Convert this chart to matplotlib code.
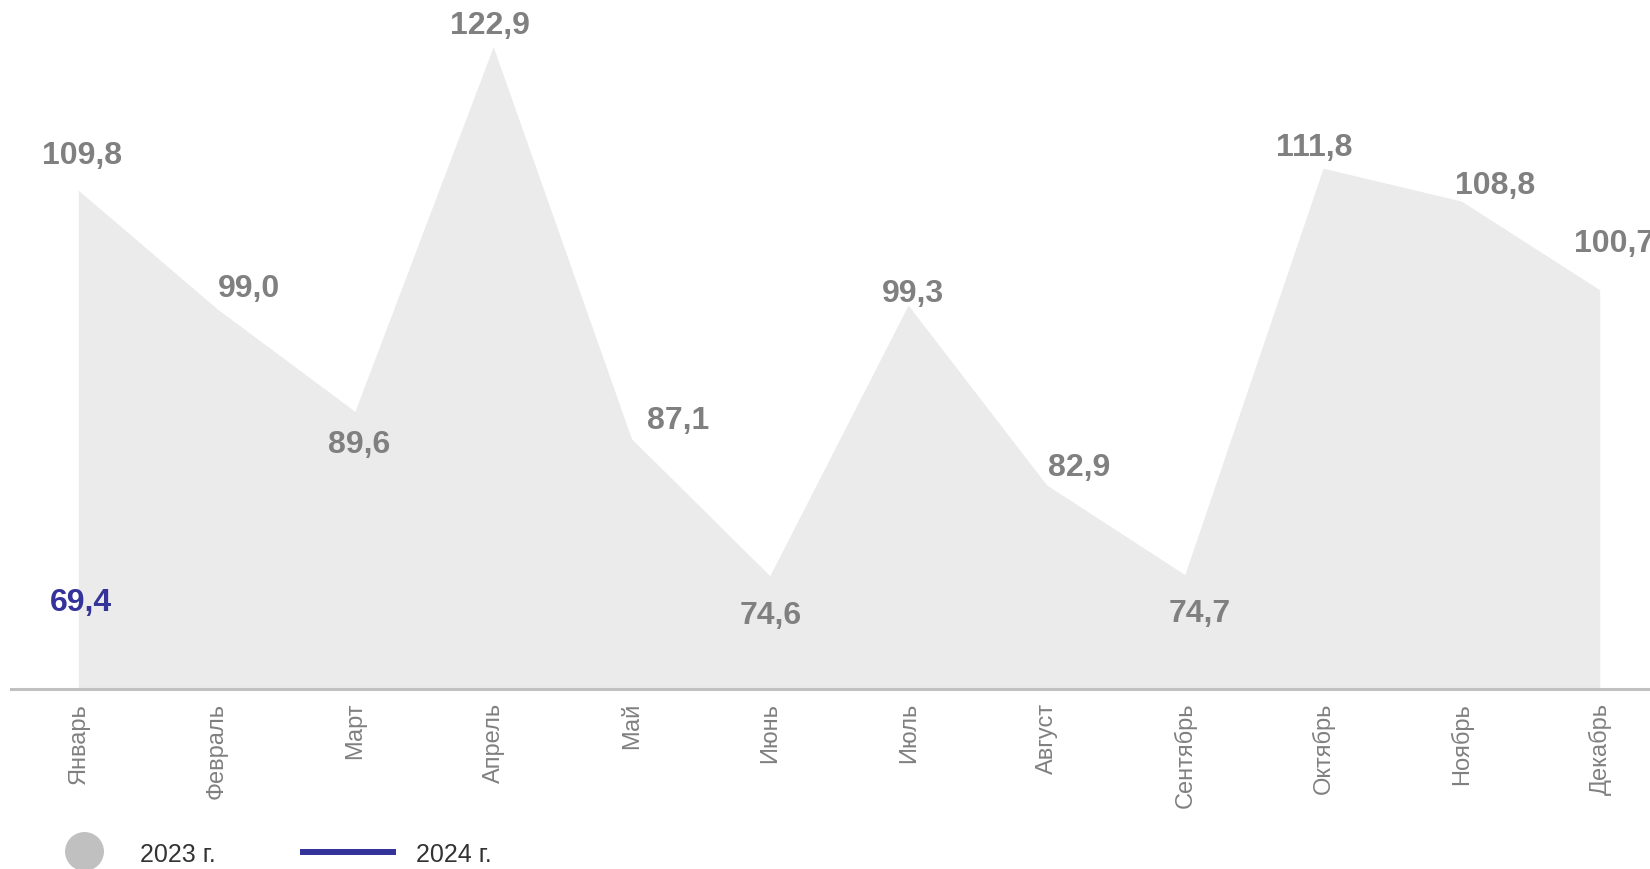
import matplotlib
matplotlib.use("Agg")
from matplotlib import pyplot as plt
from matplotlib.lines import Line2D
import numpy as np

months = ["Январь", "Февраль", "Март", "Апрель", "Май", "Июнь",
          "Июль", "Август", "Сентябрь", "Октябрь", "Ноябрь", "Декабрь"]
values_2023 = [109.8, 99.0, 89.6, 122.9, 87.1, 74.6,
               99.3, 82.9, 74.7, 111.8, 108.8, 100.7]
values_2024 = [69.4]

# label placement (pixels) to mimic the original layout
label_dx = [3, 32, 4, -4, 46, 0, 4, 32, 14, -9, 33, 14]
label_dy = [35, 20, -33, 21, 18, -40, 12, 17, -39, 21, 16, 46]

GREY_FILL = "#ebebeb"
GREY_TEXT = "#808080"
BLUE = "#333399"

plt.rcParams["font.family"] = ["Liberation Sans", "DejaVu Sans"]

W, H = 1650, 869
fig = plt.figure(figsize=(W / 100, H / 100), dpi=100)
ax = fig.add_axes([11 / W, (H - 689) / H, (W - 11) / W, 689 / H])

x = np.arange(len(months))
ax.fill_between(x, values_2023, 0, color=GREY_FILL, lw=0)
ax.plot(np.arange(len(values_2024)), values_2024, color=BLUE, lw=4)

for i, v in enumerate(values_2023):
    ax.annotate(f"{v:.1f}".replace(".", ","), (x[i], v),
                xytext=(label_dx[i], label_dy[i]), textcoords="offset pixels",
                ha="center", va="center", fontsize=23, fontweight="bold",
                color=GREY_TEXT, annotation_clip=False)
for i, v in enumerate(values_2024):
    ax.annotate(f"{v:.1f}".replace(".", ","), (i, v),
                xytext=(2, 30), textcoords="offset pixels",
                ha="center", va="center", fontsize=23, fontweight="bold",
                color=BLUE)

ax.set_xlim(-0.49, 11.36)
ax.set_ylim(64.3, 127.2)
ax.set_xticks(x)
ax.set_xticklabels(months, rotation=90, fontsize=17, color=GREY_TEXT, va="top")
ax.tick_params(axis="x", length=0, pad=10)
ax.set_yticks([])
for side in ["top", "right", "left"]:
    ax.spines[side].set_visible(False)
ax.spines["bottom"].set_color("#c0c0c0")
ax.spines["bottom"].set_linewidth(2.2)
ax.patch.set_alpha(0)

# legend at bottom, drawn by hand
fig.add_artist(Line2D([84 / W], [(H - 851) / H], marker="o", markersize=27,
                      color="#c0c0c0", lw=0))
fig.text(140 / W, (H - 855) / H, "2023 г.", fontsize=18, color="#333333",
         va="center", ha="left")
fig.add_artist(Line2D([300 / W, 396 / W], [(H - 852) / H] * 2,
                      color=BLUE, lw=4.3, solid_capstyle="butt"))
fig.text(416 / W, (H - 855) / H, "2024 г.", fontsize=18, color="#333333",
         va="center", ha="left")

fig.savefig("out.png", dpi=100)
